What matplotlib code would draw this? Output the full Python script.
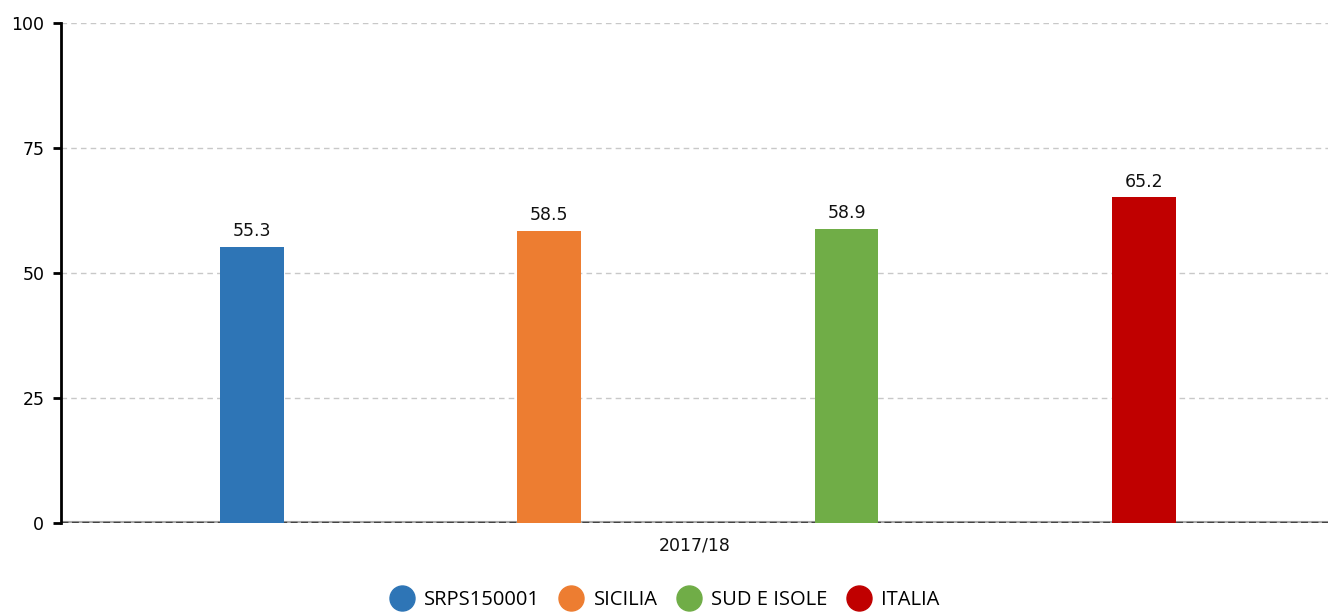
import matplotlib.pyplot as plt
from matplotlib.lines import Line2D

# data
series = ["SRPS150001", "SICILIA", "SUD E ISOLE", "ITALIA"]
values = [55.3, 58.5, 58.9, 65.2]
colors = ["#2e75b6", "#ed7d31", "#70ad47", "#c00000"]
category = "2017/18"
yticks = [0, 25, 50, 75, 100]

fig = plt.figure(figsize=(13.28, 6.13), dpi=100)
ax = fig.add_axes([61 / 1328, 90 / 613, 1 - 61 / 1328, 500 / 613])

xs = list(range(len(series)))
ax.bar(xs, values, width=0.215, color=colors, zorder=3)
for x, v in zip(xs, values):
    ax.text(x, v + 1.2, f"{v}", ha="center", va="bottom", fontsize=12.5,
            family="DejaVu Sans", color="#111111", zorder=4)

ax.set_xlim(-0.643, 3.62)
ax.set_ylim(0, 100)
ax.set_yticks(yticks)
ax.set_yticklabels([str(t) for t in yticks], fontsize=12.5, family="DejaVu Sans")
ax.tick_params(axis="y", length=6, width=2, color="black", pad=6)
ax.set_xticks([])

for y in yticks[1:]:
    ax.axhline(y, color="#c8c8c8", lw=1, ls=(0, (4, 3)), zorder=1)
# baseline: light grey under a dark dashed line
ax.axhline(0, color="#aaaaaa", lw=3, zorder=2)
ax.axhline(0, color="#444444", lw=2.5, ls=(0, (2, 1)), zorder=2)

for s in ["top", "right", "bottom"]:
    ax.spines[s].set_visible(False)
ax.spines["left"].set_linewidth(2)
ax.spines["left"].set_color("black")

ax.text(0.5, -0.046, category, transform=ax.transAxes, ha="center", va="center",
        fontsize=12.5, family="DejaVu Sans", color="#111111")

handles = [Line2D([], [], marker="o", ls="none", markersize=18, markerfacecolor=c,
                  markeredgecolor=c) for c in colors]
fig.legend(handles, series, loc="center", bbox_to_anchor=(0.5, 1 - 600 / 613),
           ncol=4, frameon=False, prop={"family": "Open Sans", "size": 14.5},
           handletextpad=0.45, columnspacing=0.9, handlelength=1.3)

fig.savefig("out.png", dpi=100)
